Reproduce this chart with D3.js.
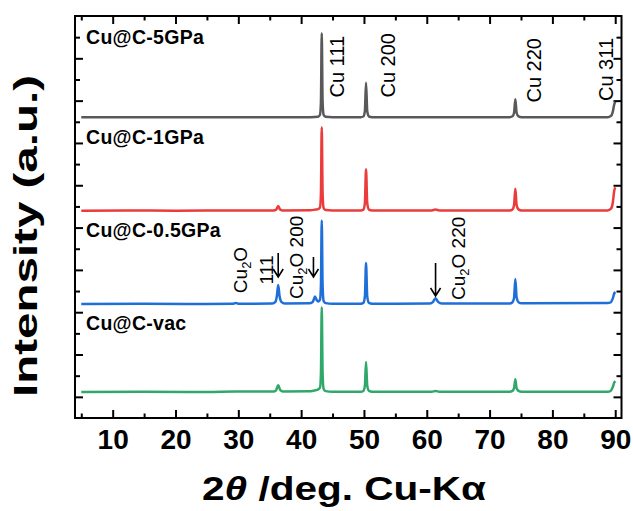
<!DOCTYPE html>
<html>
<head>
<meta charset="utf-8">
<script src="https://cdn.jsdelivr.net/npm/d3@7"></script>
<style>
body { margin: 0; background: #fff; }
text { font-family: Arial, "Liberation Sans", sans-serif; }
</style>
</head>
<body>
<div id="chart"></div>
<script>
// tick values / labels
var xMajor = [10, 20, 30, 40, 50, 60, 70, 80, 90];
var xMinor = [5, 15, 25, 35, 45, 55, 65, 75, 85];
var xTickLabels = ["10", "20", "30", "40", "50", "60", "70", "80", "90"];
var yMajor = [1, 3, 5, 7, 9, 11, 13, 15, 17];
var yMinor = [2, 4, 6, 8, 10, 12, 14, 16, 18];

// samples, bottom to top
var sampleNames = ["Cu@C-vac", "Cu@C-0.5GPa", "Cu@C-1GPa", "Cu@C-5GPa"];
var sampleOffsets = [1.23, 5.39, 9.80, 14.21];
var sampleColors = ["#30a86a", "#1f6fd8", "#eb3b3b", "#595959"];

// [2theta, intensity above own baseline]
var patternVac = [[5,0],[15,0.01],[25,0],[29.6,0.02],[35.6,0.02],[36.0,0.08],[36.35,0.32],[36.7,0.08],[37.2,0.02],
  [41.5,0.03],[42.3,0.08],[42.65,0.11],[43.0,0.2],[43.15,0.85],[43.28,4.0],[43.42,0.85],[43.58,0.14],[43.9,0.04],[45,0.01],
  [49.5,0.01],[49.9,0.05],[50.15,0.3],[50.33,1.42],[50.52,0.3],[50.8,0.05],[51.3,0.01],[60.8,0.01],[61.4,0.05],[62.0,0.01],
  [73.2,0.01],[73.65,0.05],[73.9,0.18],[74.1,0.6],[74.3,0.18],[74.6,0.05],[75.1,0.01],[88.8,0.01],[89.3,0.06],[89.6,0.22],[89.85,0.45],[90,0.52]];
var pattern05GPa = [[5,0],[15,0.01],[25,0],[29.1,0.01],[29.6,0.05],[30.1,0.01],[35.4,0.02],[35.9,0.1],[36.15,0.4],[36.35,0.9],[36.55,0.4],[36.85,0.1],[37.4,0.02],
  [41.3,0.03],[41.8,0.08],[42.0,0.2],[42.2,0.35],[42.45,0.2],[42.75,0.12],[43.0,0.2],[43.15,0.85],[43.28,3.94],[43.42,0.85],[43.58,0.14],[43.9,0.04],[45,0.01],
  [49.5,0.01],[49.9,0.05],[50.15,0.36],[50.33,1.94],[50.52,0.36],[50.8,0.05],[51.3,0.01],[60.5,0.02],[61.0,0.1],[61.4,0.27],[61.8,0.1],[62.4,0.02],
  [73.2,0.02],[73.65,0.08],[73.9,0.3],[74.1,1.18],[74.3,0.3],[74.6,0.08],[75.1,0.03],[88.8,0.04],[89.3,0.08],[89.6,0.25],[89.85,0.5],[90,0.57]];
var pattern1GPa = [[5,0],[12,0.01],[20,0],[29.6,0.01],[35.6,0.01],[36.05,0.06],[36.35,0.22],[36.65,0.06],[37.1,0.01],
  [41.5,0.02],[42.3,0.05],[42.6,0.06],[43.0,0.15],[43.15,0.8],[43.28,3.94],[43.42,0.8],[43.58,0.12],[43.9,0.03],[45,0.01],
  [49.5,0.01],[49.9,0.05],[50.15,0.36],[50.33,1.96],[50.52,0.36],[50.8,0.05],[51.3,0.01],[60.8,0.01],[61.4,0.05],[62.0,0.01],
  [73.2,0.01],[73.65,0.06],[73.9,0.27],[74.1,1.03],[74.3,0.27],[74.6,0.06],[75.1,0.01],[88.8,0.01],[89.3,0.08],[89.6,0.35],[89.85,0.95],[90,1.1]];
var pattern5GPa = [[5,0],[15,0.01],[25,0],[35,0.01],[41.5,0.01],[42.7,0.03],[43.0,0.12],[43.15,0.7],[43.28,3.97],[43.42,0.7],[43.58,0.12],[43.9,0.03],[45,0.01],
  [49.5,0.01],[49.9,0.04],[50.15,0.3],[50.33,1.64],[50.52,0.3],[50.8,0.04],[51.3,0.01],[61,0],
  [73.2,0.01],[73.65,0.05],[73.9,0.22],[74.1,0.85],[74.3,0.22],[74.6,0.05],[75.1,0.01],[88.8,0.01],[89.3,0.06],[89.6,0.25],[89.85,0.62],[90,0.74]];
var patterns = [patternVac, pattern05GPa, pattern1GPa, pattern5GPa];

var cuPeakLabels = ["Cu 111", "Cu 200", "Cu 220", "Cu 311"];
var cuPeakPositions = [43.3, 50.4, 74.1, 89.9];
var cu2oPeakLabels = ["111", "200", "220"];
var cu2oPeakPositions = [36.35, 42.2, 61.4];

var svgWidth = 633;
var svgHeight = 511;
var margin = { top: 16, right: 11.5, bottom: 93, left: 75 };
var width = svgWidth - margin.left - margin.right;
var height = svgHeight - margin.top - margin.bottom;

var svg = d3.select("#chart")
  .append("svg")
  .attr("width", svgWidth)
  .attr("height", svgHeight);

var chartGroup = svg.append("g")
  .attr("transform", `translate(${margin.left}, ${margin.top})`);

var x = d3.scaleLinear().domain([4, 91]).range([0, width]);
var y = d3.scaleLinear().domain([0, 19]).range([height, 0]);

function styleAxis(g) {
  g.select(".domain").remove();
  g.selectAll(".tick line").attr("stroke-width", 2);
}

// inward ticks on all four sides
chartGroup.append("g").attr("transform", `translate(0, ${height})`)
  .call(d3.axisBottom(x).tickValues(xMajor).tickSize(-8).tickPadding(11.5)
    .tickFormat((d, i) => xTickLabels[i]))
  .call(styleAxis)
  .selectAll("text")
  .style("font-size", "28px").style("font-weight", "bold")
  .attr("fill", "#000");
chartGroup.append("g").attr("transform", `translate(0, ${height})`)
  .call(d3.axisBottom(x).tickValues(xMinor).tickSize(-4.5).tickFormat(""))
  .call(styleAxis);
chartGroup.append("g")
  .call(d3.axisTop(x).tickValues(xMajor).tickSize(-8).tickFormat(""))
  .call(styleAxis);
chartGroup.append("g")
  .call(d3.axisTop(x).tickValues(xMinor).tickSize(-4.5).tickFormat(""))
  .call(styleAxis);
chartGroup.append("g")
  .call(d3.axisLeft(y).tickValues(yMajor).tickSize(-8).tickFormat(""))
  .call(styleAxis);
chartGroup.append("g")
  .call(d3.axisLeft(y).tickValues(yMinor).tickSize(-5).tickFormat(""))
  .call(styleAxis);
chartGroup.append("g").attr("transform", `translate(${width}, 0)`)
  .call(d3.axisRight(y).tickValues(yMajor).tickSize(-8).tickFormat(""))
  .call(styleAxis);
chartGroup.append("g").attr("transform", `translate(${width}, 0)`)
  .call(d3.axisRight(y).tickValues(yMinor).tickSize(-5).tickFormat(""))
  .call(styleAxis);

// patterns
patterns.forEach(function(data, i) {
  var line = d3.line()
    .x(d => x(d[0]))
    .y(d => y(d[1] + sampleOffsets[i]))
    .curve(d3.curveMonotoneX);
  chartGroup.append("path")
    .datum(data)
    .attr("d", line)
    .attr("fill", "none")
    .attr("stroke", sampleColors[i])
    .attr("stroke-width", 2.5)
    .attr("stroke-linejoin", "round");
});

// frame
chartGroup.append("rect")
  .attr("width", width).attr("height", height)
  .attr("fill", "none").attr("stroke", "#000").attr("stroke-width", 2);

// sample names
var nameBaselines = [330, 236.7, 144, 44];
sampleNames.forEach(function(name, i) {
  chartGroup.append("text")
    .attr("x", 11)
    .attr("y", nameBaselines[i] - margin.top)
    .style("font-size", "19.5px").style("font-weight", "bold")
    .style("letter-spacing", "0.3px")
    .text(name);
});

// Cu labels (rotated)
var cuDx = [22, 28.5, 26, -2];
var cuStartY = [97.5, 97.5, 102.5, 101];
cuPeakLabels.forEach(function(lab, i) {
  chartGroup.append("text")
    .attr("transform", `translate(${x(cuPeakPositions[i]) + cuDx[i]}, ${cuStartY[i] - margin.top}) rotate(-90)`)
    .style("font-size", "20px")
    .text(lab);
});

// Cu2O labels and arrows
function cu2oText(px, py, anchor, suffix) {
  var t = chartGroup.append("text")
    .attr("transform", `translate(${px}, ${py - margin.top}) rotate(-90)`)
    .attr("text-anchor", anchor)
    .style("font-size", "19px");
  t.append("tspan").text("Cu");
  t.append("tspan").attr("dy", 4).style("font-size", "13px").text("2");
  t.append("tspan").attr("dy", -4).text("O" + suffix);
}
var p0 = x(cu2oPeakPositions[0]);
cu2oText(p0 - 31, 270, "middle", "");
chartGroup.append("text")
  .attr("transform", `translate(${p0 - 5}, ${270 - margin.top}) rotate(-90)`)
  .attr("text-anchor", "middle")
  .style("font-size", "19px")
  .text(cu2oPeakLabels[0]);
cu2oText(x(cu2oPeakPositions[1]) - 11.5, 299, "start", " " + cu2oPeakLabels[1]);
cu2oText(x(cu2oPeakPositions[2]) + 29, 300, "start", " " + cu2oPeakLabels[2]);

var arrowDx = [0, -1.5, 0];
var arrowTop = [253, 257, 263];
var arrowTip = [277, 277, 296];
cu2oPeakPositions.forEach(function(p, i) {
  var ax = x(p) + arrowDx[i];
  var t0 = arrowTop[i] - margin.top, t1 = arrowTip[i] - margin.top;
  chartGroup.append("path")
    .attr("d", `M${ax},${t0}L${ax},${t1}M${ax - 5},${t1 - 8}L${ax},${t1}L${ax + 5},${t1 - 8}`)
    .attr("fill", "none").attr("stroke", "#000").attr("stroke-width", 1.6);
});

// axis titles
svg.append("text")
  .attr("transform", "translate(37, 236) rotate(-90)")
  .attr("text-anchor", "middle")
  .attr("textLength", 322).attr("lengthAdjust", "spacingAndGlyphs")
  .style("font-size", "33px").style("font-weight", "bold")
  .text("Intensity (a.u.)");

var xt = svg.append("text")
  .attr("x", 202).attr("y", 500)
  .attr("textLength", 284).attr("lengthAdjust", "spacingAndGlyphs")
  .style("font-size", "33px").style("font-weight", "bold");
xt.append("tspan").text("2");
xt.append("tspan").style("font-style", "italic").text("\u03b8");
xt.append("tspan").text(" /deg. Cu-K\u03b1");
</script>
</body>
</html>
